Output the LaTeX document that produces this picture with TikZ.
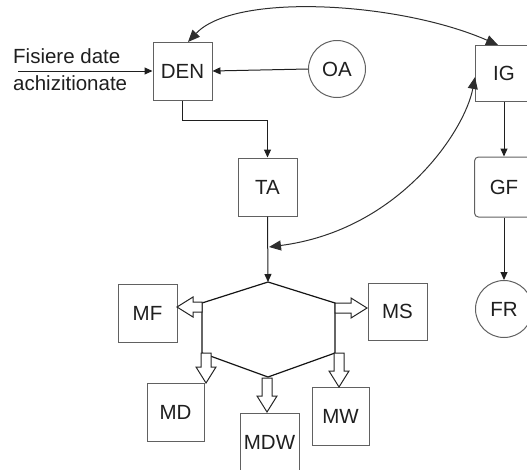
\documentclass[tikz,border=0pt]{standalone}
\usepackage{fontspec}
\setmainfont{Liberation Sans}
\usetikzlibrary{arrows.meta,calc}

\begin{document}
\begin{tikzpicture}[x=1pt,y=-1pt,
  font=\fontsize{20.5}{24}\selectfont,
  every node/.style={text=black!88},
  box/.style={draw=black!62,line width=1pt,inner sep=0pt,
              minimum width=#1,minimum height=58pt},
  box/.default=59pt,
  rbox/.style={box,rounded corners=4pt},
  circ/.style={draw=black!62,line width=1pt,circle,inner sep=0pt,
               minimum size=57pt},
  conn/.style={draw=black!88,line width=1pt,
               -{Triangle[length=8pt,width=7pt]}},
  curvedlink/.style={draw=black!82,line width=1pt,
               {Triangle[length=12pt,width=10pt]}-{Triangle[length=12pt,width=10pt]}},
  hexline/.style={draw=black!92,line width=1.2pt},
  pics/blockarrow/.style={code={
    \draw[draw=black!85,line width=1pt,fill=white,line join=miter]
      (0,-5) -- (#1-16,-5) -- (#1-16,-10) -- (#1,0) -- (#1-16,10)
      -- (#1-16,5) -- (0,5) -- cycle;
  }}]
\useasboundingbox (0,0) rectangle (527,469);

% upper chain
\node[box] (den) at (182.5,71) {DEN};
\node[circ] (oa) at (337,69) {OA};
\node[box] (ta) at (267.5,187) {TA};
\node[box=58pt,minimum height=56pt] (ig) at (504,73) {IG};
\node[rbox=58pt,minimum height=60pt] (gf) at (504,187) {GF};
\node[circ,minimum size=57pt] (fr) at (504,309) {FR};

% input label
\coordinate (src) at (18,71);
\node[anchor=base west,inner sep=0pt] (lab1) at (13,63) {Fisiere date};
\node[anchor=base west,inner sep=0pt] (lab2) at (13,90) {achizitionate};

% hexagon
\coordinate (hT)  at (268,282);
\coordinate (hUR) at (335,303);
\coordinate (hLR) at (335,353);
\coordinate (hB)  at (268,377);
\coordinate (hLL) at (202,353);
\coordinate (hUL) at (202,303);
\draw[hexline] (hT) -- (hUR) -- (hLR) -- (hB) -- (hLL) -- (hUL) -- cycle;

% module boxes
\node[box] (mf) at (147.5,313) {MF};
\node[box,minimum height=57pt] (ms) at (397.5,311.5) {MS};
\node[box=57pt] (md) at (175.5,412) {MD};
\node[box] (mdw) at (269.5,442) {MDW};
\node[box=57pt] (mw) at (340.5,416) {MW};

% connectors
\draw[conn] (src) -- (den.west);
\draw[conn] (oa.west) -- (den.east);
\draw[conn] (den.south) -- ++(0,20) -| (ta.north);
\draw[conn] (ta.south) -- (hT);
\draw[conn] (ig.south) -- (gf.north);
\draw[conn] (gf.south) -- (fr.north);

\coordinate (den top) at (188,42);
\coordinate (ig top) at (498,45);
\draw[curvedlink] (den top) .. controls (235,-8) and (400,2) .. (ig top);

\coordinate (tap) at (269,247);
\coordinate (ig left) at (475,77);
\draw[curvedlink] (tap) .. controls (400,230) and (465,130) .. (ig left);

% hollow arrows from the hexagon
\pic[rotate=180] at (202,307) {blockarrow=25};
\pic at (335,308) {blockarrow=32};
\pic[rotate=-90] at (206,353) {blockarrow=30};
\pic[rotate=-90] at (267,378) {blockarrow=34};
\pic[rotate=-90] at (339,353) {blockarrow=34};
\end{tikzpicture}
\end{document}
